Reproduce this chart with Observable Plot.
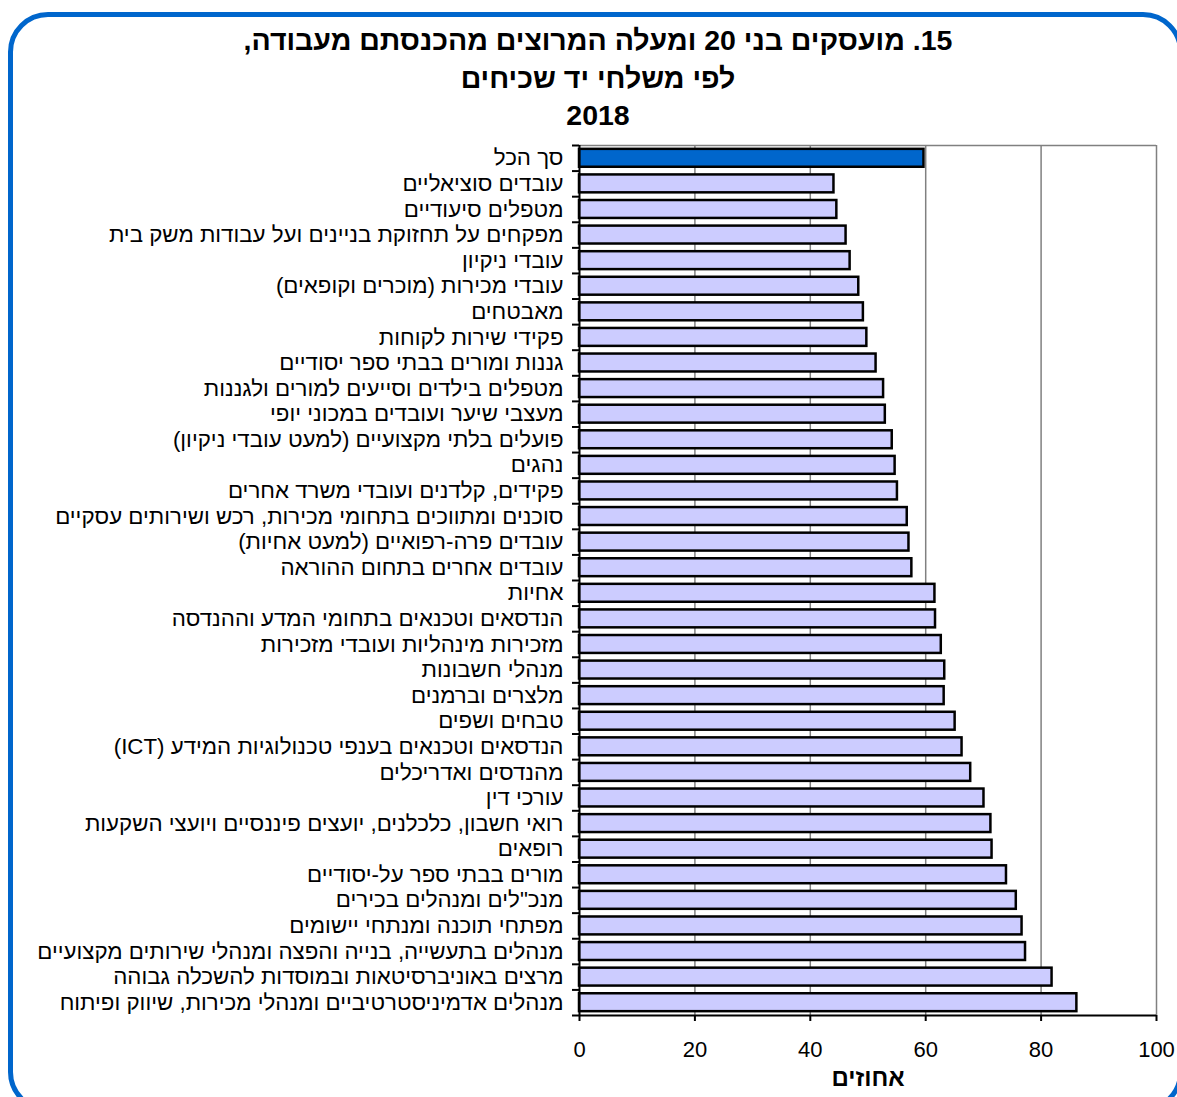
<!DOCTYPE html>
<html>
<head>
<meta charset="utf-8">
<script src="https://cdn.jsdelivr.net/npm/d3@7"></script>
<script src="https://cdn.jsdelivr.net/npm/@observablehq/plot@0.6"></script>
<style>
  body { margin: 0; background: #fff; font-family: Arial, "Liberation Sans", sans-serif; }
  #wrap { position: relative; width: 1177px; height: 1097px; overflow: hidden; background: #fff; }
  #box { position: absolute; left: 8px; top: 12px; width: 1175px; height: 1100px; box-sizing: border-box;
         border: 5px solid #0066cc; border-radius: 40px; }
  #title { position: absolute; left: 0; top: 22px; width: 1196px; text-align: center; direction: rtl;
           font-weight: bold; font-size: 28.5px; line-height: 37.5px; color: #000; }
  #chart { position: absolute; left: 0; top: 0; }
</style>
</head>
<body>
<div id="wrap">
  <div id="box"></div>
  <div id="chart"></div>
  <div id="title"></div>
</div>
<script>
const titleLines = ["15. מועסקים בני 20 ומעלה המרוצים מהכנסתם מעבודה,", "לפי משלחי יד שכיחים", "2018"];
const axisLabel = "אחוזים";
const totalLabel = "סך הכל";
const categories = [
  "סך הכל",
  "עובדים סוציאליים",
  "מטפלים סיעודיים",
  "מפקחים על תחזוקת בניינים ועל עבודות משק בית",
  "עובדי ניקיון",
  "עובדי מכירות (מוכרים וקופאים)",
  "מאבטחים",
  "פקידי שירות לקוחות",
  "גננות ומורים בבתי ספר יסודיים",
  "מטפלים בילדים וסייעים למורים ולגננות",
  "מעצבי שיער ועובדים במכוני יופי",
  "פועלים בלתי מקצועיים (למעט עובדי ניקיון)",
  "נהגים",
  "פקידים, קלדנים ועובדי משרד אחרים",
  "סוכנים ומתווכים בתחומי מכירות, רכש ושירותים עסקיים",
  "עובדים פרה-רפואיים (למעט אחיות)",
  "עובדים אחרים בתחום ההוראה",
  "אחיות",
  "הנדסאים וטכנאים בתחומי המדע וההנדסה",
  "מזכירות מינהליות ועובדי מזכירות",
  "מנהלי חשבונות",
  "מלצרים וברמנים",
  "טבחים ושפים",
  "הנדסאים וטכנאים בענפי טכנולוגיות המידע (ICT)",
  "מהנדסים ואדריכלים",
  "עורכי דין",
  "רואי חשבון, כלכלנים, יועצים פיננסיים ויועצי השקעות",
  "רופאים",
  "מורים בבתי ספר על-יסודיים",
  "מנכ\"לים ומנהלים בכירים",
  "מפתחי תוכנה ומנתחי יישומים",
  "מנהלים בתעשייה, בנייה והפצה ומנהלי שירותים מקצועיים",
  "מרצים באוניברסיטאות ובמוסדות להשכלה גבוהה",
  "מנהלים אדמיניסטרטיביים ומנהלי מכירות, שיווק ופיתוח"
];
const values = [
  59.7, 44.1, 44.6, 46.2, 46.9, 48.4, 49.2, 49.8, 51.4, 52.7, 53.0, 54.2,
  54.7, 55.1, 56.8, 57.1, 57.6, 61.6, 61.7, 62.7, 63.3, 63.2, 65.1, 66.3,
  67.8, 70.1, 71.3, 71.5, 74.0, 75.7, 76.7, 77.3, 81.9, 86.2
];
const xTicks = [0, 20, 40, 60, 80, 100];

document.getElementById("title").innerHTML = titleLines.map(t => `<div>${t}</div>`).join("");

const W = 1177, H = 1097, mT = 145, mB = 82, mL = 579, mR = 21;
const step = (H - mT - mB) / categories.length;
const data = categories.map((c, i) => ({
  category: c, value: values[i], fill: c === totalLabel ? "#0066cc" : "#ccccff"
}));
const rtl = d => "\u202B" + d + "\u202C";

const chart = Plot.plot({
  width: W, height: H,
  marginTop: mT, marginBottom: mB, marginLeft: mL, marginRight: mR,
  style: { fontFamily: "Arial, 'Liberation Sans', sans-serif", color: "black", background: "transparent", overflow: "visible" },
  x: { domain: [0, 100], label: null },
  y: { domain: categories, paddingInner: 0.3, paddingOuter: 0.15, round: false, label: null },
  marks: [
    Plot.gridX(xTicks.slice(1), { stroke: "#808080", strokeOpacity: 1, strokeWidth: 1.5 }),
    Plot.ruleY([categories[0]], { dy: -step / 2, stroke: "#808080", strokeWidth: 1.5 }),
    Plot.barX(data, { y: "category", x: "value", fill: "fill", stroke: "black", strokeWidth: 2.5 }),
    Plot.ruleX([0], { stroke: "black", strokeWidth: 2 }),
    Plot.ruleY([categories[categories.length - 1]], { dy: step / 2, stroke: "black", strokeWidth: 2 }),
    Plot.axisX(xTicks, { tickSize: 6, tickPadding: 20, fontSize: 22, strokeWidth: 2, tickFormat: d => String(d) }),
    Plot.axisY(categories, { tickSize: 0, tickPadding: 16, fontSize: 22.3, tickFormat: rtl }),
    Plot.axisY(categories, { tickSize: 7, tickFormat: () => "", dy: -step / 2, strokeWidth: 2 }),
    Plot.axisY([categories[categories.length - 1]], { tickSize: 7, tickFormat: () => "", dy: step / 2, strokeWidth: 2 }),
    Plot.text([axisLabel], { frameAnchor: "bottom", dy: 70, fontWeight: "bold", fontSize: 24, fill: "black" })
  ]
});
document.getElementById("chart").appendChild(chart);
</script>
</body>
</html>
